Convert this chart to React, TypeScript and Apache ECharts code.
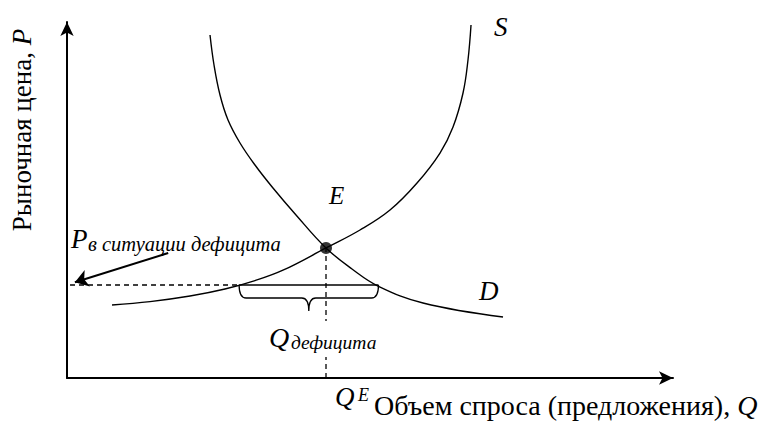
import React, { useEffect, useRef } from "react";
import * as echarts from "echarts";

// Demand curve D (quantity, price)
const demandQ = [23.6, 24.26, 25.25, 26.57, 28.55, 31.02, 33.99, 37.79, 42.74, 47.03, 51.32, 58.75, 71.95];
const demandP = [96.35, 87.92, 79.49, 72.47, 66.01, 59.83, 53.37, 45.79, 36.52, 30.62, 25.84, 21.07, 17.13];
// Supply curve S (quantity, price)
const supplyQ = [7.43, 13.7, 20.3, 26.07, 31.02, 35.64, 42.74, 48.35, 53.3, 57.76, 61.55, 63.7, 65.35, 66.17, 66.67];
const supplyP = [20.51, 21.46, 23.03, 25.0, 27.36, 30.28, 36.52, 41.57, 47.19, 54.78, 63.2, 70.51, 80.06, 89.33, 99.16];
// Equilibrium E
const equilibriumQ = 42.74;
const equilibriumP = 36.52;
// Deficit situation
const deficitPrice = 26.12;
const deficitQs = 28.4;
const deficitQd = 51.4;
const dashStartQ = 0.5;
// Pointer arrow to the deficit price
const arrowFrom = [16.7, 35.1];
const arrowTo = [1.3, 26.9];
// Axis ranges
const axisMaxQ = 100;
const axisMaxP = 100;

const serif = "Liberation Serif, serif";

export default function App() {
  const ref = useRef<HTMLDivElement>(null);
  useEffect(() => {
    if (!ref.current) return;
    const chart = echarts.init(ref.current, undefined, { renderer: "svg" });
    const black = "#000";
    const curveStyle = { color: black, width: 1.4 };
    const dashed = { color: black, width: 1.3, type: [5, 4] as any };
    const axisCommon = {
      type: "value" as const,
      min: 0,
      axisLine: {
        show: true,
        symbol: ["none", "arrow"],
        symbolSize: [10, 14],
        lineStyle: { color: black, width: 2 },
      },
      axisTick: { show: false },
      axisLabel: { show: false },
      splitLine: { show: false },
    };
    const txt = (x: number, y: number, text: string, size: number, italic = true) => ({
      type: "text",
      x,
      y,
      z: 100,
      style: {
        text,
        fontFamily: serif,
        fontSize: size,
        fontStyle: italic ? "italic" : "normal",
        verticalAlign: "middle",
        fill: black,
      },
    });
    const option: any = {
      animation: false,
      backgroundColor: "#fff",
      textStyle: { fontFamily: serif },
      grid: { left: 67, right: 87, top: 22, bottom: 52 },
      xAxis: { ...axisCommon, max: axisMaxQ },
      yAxis: { ...axisCommon, max: axisMaxP },
      series: [
        {
          type: "line",
          name: "D",
          data: demandQ.map((q, i) => [q, demandP[i]]),
          smooth: 0.4,
          showSymbol: false,
          symbol: "none",
          lineStyle: curveStyle,
          z: 3,
        },
        {
          type: "line",
          name: "S",
          data: supplyQ.map((q, i) => [q, supplyP[i]]),
          smooth: 0.4,
          showSymbol: false,
          symbol: "none",
          lineStyle: curveStyle,
          z: 3,
        },
        {
          type: "line",
          name: "deficit-dash",
          data: [
            [dashStartQ, deficitPrice],
            [deficitQs, deficitPrice],
          ],
          symbol: "none",
          lineStyle: dashed,
          z: 2,
        },
        {
          type: "line",
          name: "deficit-solid",
          data: [
            [deficitQs, deficitPrice],
            [deficitQd, deficitPrice],
          ],
          symbol: "none",
          lineStyle: { color: black, width: 1.4 },
          z: 2,
        },
        {
          type: "line",
          name: "qe-dash",
          data: [
            [equilibriumQ, 0],
            [equilibriumQ, equilibriumP],
          ],
          symbol: "none",
          lineStyle: dashed,
          z: 1,
        },
        {
          type: "custom",
          name: "brace",
          data: [[deficitQs, deficitQd, deficitPrice]],
          encode: { x: [0, 1], y: 2 },
          clip: false,
          z: 3,
          renderItem: (params: any, api: any) => {
            const a = api.coord([api.value(0), api.value(2)]);
            const b = api.coord([api.value(1), api.value(2)]);
            const y = a[1];
            const x1 = a[0];
            const x2 = b[0];
            const m = (x1 + x2) / 2;
            const h = 13;
            const t = 26;
            const r = 7;
            const d =
              `M${x1},${y} Q${x1},${y + h} ${x1 + r},${y + h} ` +
              `L${m - r},${y + h} Q${m},${y + h} ${m},${y + t} ` +
              `Q${m},${y + h} ${m + r},${y + h} ` +
              `L${x2 - r},${y + h} Q${x2},${y + h} ${x2},${y}`;
            return {
              type: "path",
              shape: { pathData: d },
              style: { fill: "none", stroke: black, lineWidth: 1.3 },
            };
          },
        },
        {
          type: "lines",
          name: "arrow",
          coordinateSystem: "cartesian2d",
          data: [{ coords: [arrowFrom, arrowTo] }],
          symbol: ["none", "arrow"],
          symbolSize: [9, 13],
          lineStyle: { color: black, width: 2, opacity: 1 },
          effect: { show: false },
          z: 4,
        },
        {
          type: "scatter",
          name: "E",
          data: [[equilibriumQ, equilibriumP]],
          symbol: "circle",
          symbolSize: 12,
          itemStyle: { color: black },
          z: 5,
        },
      ],
      graphic: [
        {
          type: "text",
          x: 22,
          y: 130,
          rotation: Math.PI / 2,
          z: 100,
          style: {
            text: "{a|Рыночная цена, }{b|P}",
            rich: {
              a: { fontSize: 27, fontFamily: serif, fill: black },
              b: { fontSize: 27, fontFamily: serif, fontStyle: "italic", fill: black },
            },
            fontFamily: serif,
            fontSize: 27,
            align: "center",
            verticalAlign: "middle",
            fill: black,
          },
        },
        txt(71, 239, "P", 27),
        txt(88, 244, "в ситуации дефицита", 20.5),
        txt(329, 195, "E", 25),
        txt(494, 26.5, "S", 27),
        txt(479, 291, "D", 27),
        {
          type: "rect",
          z: 99,
          shape: { x: 266, y: 321, width: 116, height: 36 },
          style: { fill: "#fff" },
        },
        txt(269, 337, "Q", 28),
        txt(291, 342, "дефицита", 19.5),
        txt(335, 397, "Q", 27),
        txt(358, 395, "E", 18),
        {
          type: "text",
          x: 374,
          y: 405,
          z: 100,
          style: {
            text: "{a|Объем спроса (предложения), }{b|Q}",
            rich: {
              a: { fontSize: 28, fontFamily: serif, fill: black },
              b: { fontSize: 28, fontFamily: serif, fontStyle: "italic", fill: black },
            },
            fontFamily: serif,
            fontSize: 28,
            verticalAlign: "middle",
            fill: black,
          },
        },
      ],
    };
    chart.setOption(option);
    return () => chart.dispose();
  }, []);
  return (
    <div
      ref={ref}
      style={{ position: "absolute", left: 0, top: 0, width: 760, height: 430, background: "#fff" }}
    />
  );
}
